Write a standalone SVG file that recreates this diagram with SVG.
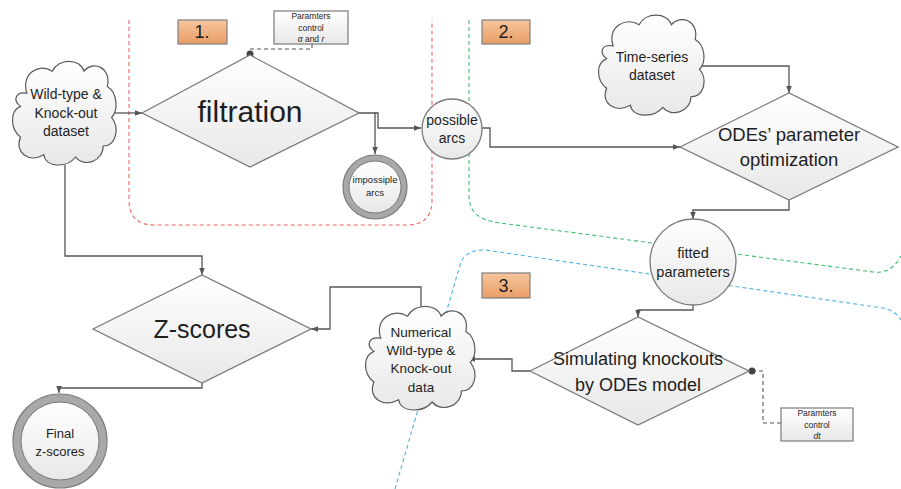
<svg xmlns="http://www.w3.org/2000/svg" width="901" height="489" viewBox="0 0 901 489">
<style>
.t{font-family:"Liberation Sans",Arial,sans-serif;fill:#1e1e1e;text-anchor:middle}
.shape{fill:url(#gw);stroke:#7a7a7a;stroke-width:1.3}
.cl{fill:url(#gw);stroke:#5a5a5a;stroke-width:1.2}
.conn{fill:none;stroke:#555;stroke-width:1.3;marker-end:url(#arr)}
.dash{fill:none;stroke:#555;stroke-width:1.1;stroke-dasharray:4 3}
.reg{fill:none;stroke-width:1.1;stroke-dasharray:4 3}
.num{fill:url(#go);stroke:#7f7f7f;stroke-width:1.2}
.box{fill:url(#gw);stroke:#7a7a7a;stroke-width:1.2}
</style>
<defs>
<linearGradient id="gw" x1="0" y1="0" x2="0" y2="1"><stop offset="0" stop-color="#ffffff"/><stop offset="1" stop-color="#e8e8e8"/></linearGradient>
<linearGradient id="go" x1="0" y1="0" x2="0" y2="1"><stop offset="0" stop-color="#f7c59d"/><stop offset="1" stop-color="#e99e66"/></linearGradient>
<marker id="arr" viewBox="0 0 10 10" refX="10" refY="5" markerWidth="7" markerHeight="7" markerUnits="userSpaceOnUse" orient="auto"><path d="M0,1 L10,5 L0,9 Z" fill="#555"/></marker>
<path id="cloud" vector-effect="non-scaling-stroke" d="M14,32 C8,14 26,4 38,12 C44,0 64,0 68,12 C76,2 94,8 90,26 C100,32 100,48 94,54 C102,64 98,80 86,80 C86,94 68,100 60,90 C52,100 32,100 30,88 C16,96 2,86 8,72 C-2,64 -2,48 8,44 C0,38 4,30 14,32 Z"/>
</defs>

<g id="regions">
<path class="reg" stroke="#f06464" d="M129,20 L129,200 Q129,225 154,225 L407,225 Q432,225 432,200 L432,20"/>
<path class="reg" stroke="#3fbf6f" d="M469,20 L469,195 C469,212 478,220 500,223 L873,272 C888,274 896,265 901,256"/>
<path class="reg" stroke="#4fb3e6" d="M395,489 L460,265 C463,255 470,250 485,250 L883,308 C893,310 898,315 901,320"/>
</g>

<g id="connectors">
<path class="conn" d="M110,113 L142,113"/>
<path class="conn" d="M359,113 L375,113 L375,154"/>
<path class="conn" d="M375,113 L378,113 L378,128 L421,128"/>
<path class="conn" d="M482,128 L490,128 L490,147 L680,147"/>
<path class="conn" d="M700,66 L789,66 L789,93"/>
<path class="conn" d="M789,200 L789,210 L693,210 L693,219"/>
<path class="conn" d="M693,305 L693,310 L638,310 L638,317"/>
<path class="conn" d="M530,371 L512,371 L512,359 L468,359"/>
<path class="conn" d="M421,318 L421,287 L330,287 L330,329 L311,329"/>
<path class="conn" d="M65,165 L65,256 L202,256 L202,275"/>
<path class="conn" d="M202,383 L202,388 L59,388 L59,393"/>
<path class="dash" d="M312,44 L312,49 L250,49 L250,53"/>
<path class="dash" d="M752,371 L763,371 L763,423 L781,423"/>
<circle cx="250" cy="54" r="3.5" fill="#444"/>
<circle cx="752" cy="371" r="3.5" fill="#444"/>
</g>

<g id="label1"><rect class="num" x="178" y="20" width="49" height="24"/><text class="t" x="202" y="38" font-size="18">1.</text></g>
<g id="label2"><rect class="num" x="482" y="20" width="48" height="24"/><text class="t" x="506" y="38" font-size="18">2.</text></g>
<g id="label3"><rect class="num" x="482" y="273" width="48" height="25"/><text class="t" x="506" y="292" font-size="18">3.</text></g>

<g id="params1"><rect class="box" x="274" y="11" width="74" height="33"/>
<text class="t" x="311" y="19" font-size="8.5">Paramters</text>
<text class="t" x="311" y="31" font-size="8.5">control</text>
<text class="t" x="311" y="42" font-size="8.5"><tspan font-style="italic">α</tspan>  and <tspan font-style="italic">r</tspan></text></g>

<g id="params2"><rect class="box" x="781" y="408" width="72" height="33"/>
<text class="t" x="817" y="416" font-size="8.5">Paramters</text>
<text class="t" x="817" y="428" font-size="8.5">control</text>
<text class="t" x="817" y="439" font-size="8.5" font-style="italic">dt</text></g>

<g id="wildtype"><use href="#cloud" class="cl" transform="translate(12,58) scale(1.06,1.1)"/>
<text class="t" x="66" y="99" font-size="14">Wild-type &amp;</text>
<text class="t" x="66" y="118" font-size="14">Knock-out</text>
<text class="t" x="66" y="136" font-size="14">dataset</text></g>

<g id="filtration"><path class="shape" d="M142,113 L250,55 L359,113 L250,167 Z"/>
<text class="t" x="250" y="122" font-size="30">filtration</text></g>

<g id="impossible"><circle cx="375" cy="187" r="32" fill="#a8a8a8" stroke="#7a7a7a" stroke-width="1.2"/><circle cx="375" cy="187" r="26" fill="url(#gw)" stroke="#7a7a7a" stroke-width="1"/>
<text class="t" x="375" y="183" font-size="9.5">impossiple</text>
<text class="t" x="375" y="196" font-size="9.5">arcs</text></g>

<g id="possible"><circle class="shape" cx="452" cy="129" r="30"/>
<text class="t" x="452" y="125" font-size="14">possible</text>
<text class="t" x="452" y="143" font-size="14">arcs</text></g>

<g id="timeseries"><use href="#cloud" class="cl" transform="translate(598,12) scale(1.08,1.06)"/>
<text class="t" x="652" y="62" font-size="14">Time-series</text>
<text class="t" x="652" y="80" font-size="14">dataset</text></g>

<g id="ode"><path class="shape" d="M680,147 L789,93 L898,147 L789,200 Z"/>
<text class="t" x="789" y="141" font-size="18.5">ODEs’ parameter</text>
<text class="t" x="789" y="166" font-size="18.5">optimization</text></g>

<g id="fitted"><circle class="shape" cx="693" cy="262" r="43"/>
<text class="t" x="693" y="258" font-size="14.5">fitted</text>
<text class="t" x="693" y="277" font-size="14.5">parameters</text></g>

<g id="simulating"><path class="shape" d="M530,371 L638,317 L749,371 L638,425 Z"/>
<text class="t" x="638" y="365" font-size="18">Simulating knockouts</text>
<text class="t" x="638" y="391" font-size="18">by ODEs model</text></g>

<g id="numerical"><use href="#cloud" class="cl" transform="translate(365,303) scale(1.12,1.1)"/>
<text class="t" x="421" y="337" font-size="13.5">Numerical</text>
<text class="t" x="421" y="355" font-size="13.5">Wild-type &amp;</text>
<text class="t" x="421" y="373" font-size="13.5">Knock-out</text>
<text class="t" x="421" y="392" font-size="13.5">data</text></g>

<g id="zscores"><path class="shape" d="M93,329 L202,275 L311,329 L202,383 Z"/>
<text class="t" x="202" y="338" font-size="25">Z-scores</text></g>

<g id="final"><circle cx="60" cy="441" r="47" fill="#a8a8a8" stroke="#7a7a7a" stroke-width="1.2"/><circle cx="60" cy="441" r="39" fill="url(#gw)" stroke="#7a7a7a" stroke-width="1"/>
<text class="t" x="60" y="438" font-size="13">Final</text>
<text class="t" x="60" y="456" font-size="13">z-scores</text></g>
</svg>
